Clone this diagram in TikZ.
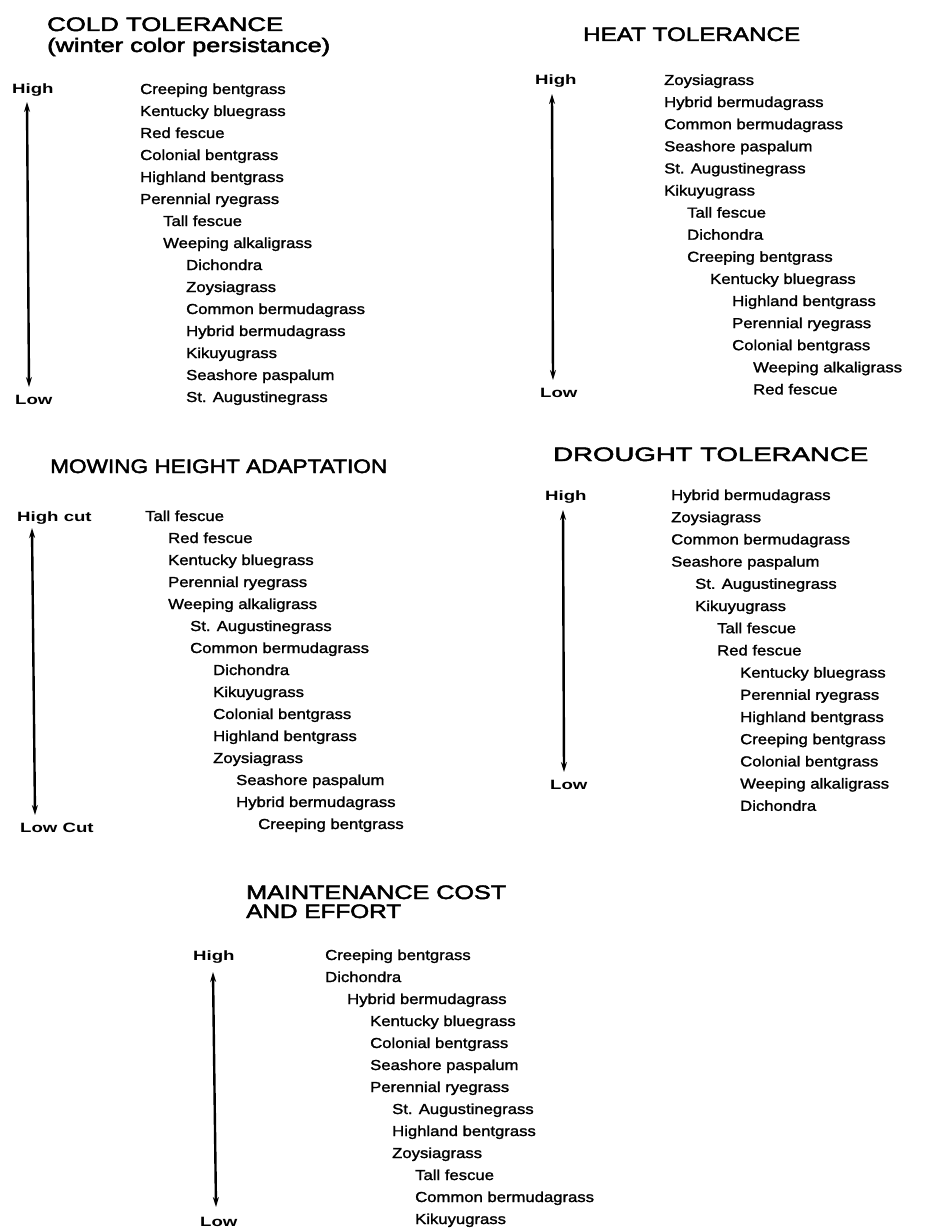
\documentclass[tikz,border=0pt]{standalone}
\usepackage{fontspec}
\setmainfont{Liberation Sans}[FakeStretch=1.15,FakeBold=1.5]
\newfontfamily\lblfont{Liberation Sans}[FakeStretch=1.38]
\newfontfamily\ttlfont{Liberation Sans}[FakeBold=2.2]
\usetikzlibrary{arrows.meta}
\tikzset{
  item/.style={anchor=base west, inner sep=0pt, font=\fontsize{14.5}{17}\selectfont},
  lbl/.style={anchor=base west, inner sep=0pt, font=\lblfont\bfseries\fontsize{13.5}{16}\selectfont},
  ttl/.style={anchor=base west, inner sep=0pt, font=\ttlfont\fontsize{19.5}{22}\selectfont},
  axisarrow/.style={line width=2.4pt, {Stealth[length=10pt,width=6pt]}-{Stealth[length=10pt,width=6pt]}}
}
\newcommand\tw[2]{\resizebox{#1pt}{\height}{#2}}
\begin{document}
\begin{tikzpicture}[x=1pt,y=-1pt]
\useasboundingbox (0,0) rectangle (935,1228);
\fill[white] (0,0) rectangle (935,1228);

% ---------- COLD TOLERANCE ----------
\node[ttl] (coldT1) at (47,31) {\tw{236}{COLD TOLERANCE}};
\node[ttl] (coldT2) at (47,52) {\tw{283}{(winter color persistance)}};
\node[lbl] (coldHi) at (12,94) {High};
\node[lbl] (coldLo) at (15,404) {Low};
\coordinate (coldTop) at (27,102);
\coordinate (coldBot) at (29,387);
\draw[axisarrow] (coldTop) -- (coldBot);
\foreach \dx/\t [count=\i from 0] in {0/Creeping bentgrass,0/Kentucky bluegrass,0/Red fescue,0/Colonial bentgrass,0/Highland bentgrass,0/Perennial ryegrass,23/Tall fescue,23/Weeping alkaligrass,46/Dichondra,46/Zoysiagrass,46/Common bermudagrass,46/Hybrid bermudagrass,46/Kikuyugrass,46/Seashore paspalum,46/St. Augustinegrass}
  \node[item] (cold\i) at (140+\dx,94+22*\i) {\t};

% ---------- HEAT TOLERANCE ----------
\node[ttl] (heatT) at (583,41) {\tw{217}{HEAT TOLERANCE}};
\node[lbl] (heatHi) at (535,85) {High};
\node[lbl] (heatLo) at (540,397) {Low};
\coordinate (heatTop) at (552,94);
\coordinate (heatBot) at (553,380);
\draw[axisarrow] (heatTop) -- (heatBot);
\foreach \dx/\t [count=\i from 0] in {0/Zoysiagrass,0/Hybrid bermudagrass,0/Common bermudagrass,0/Seashore paspalum,0/St. Augustinegrass,0/Kikuyugrass,23/Tall fescue,23/Dichondra,23/Creeping bentgrass,46/Kentucky bluegrass,68/Highland bentgrass,68/Perennial ryegrass,68/Colonial bentgrass,89/Weeping alkaligrass,89/Red fescue}
  \node[item] (heat\i) at (664+\dx,85+22.1*\i) {\t};

% ---------- MOWING HEIGHT ADAPTATION ----------
\node[ttl] (mowT) at (50,473) {\tw{337}{MOWING HEIGHT ADAPTATION}};
\node[lbl] (mowHi) at (17,521) {High cut};
\node[lbl] (mowLo) at (20,832) {Low Cut};
\coordinate (mowTop) at (32,528);
\coordinate (mowBot) at (35,815);
\draw[axisarrow] (mowTop) -- (mowBot);
\foreach \dx/\t [count=\i from 0] in {0/Tall fescue,23/Red fescue,23/Kentucky bluegrass,23/Perennial ryegrass,23/Weeping alkaligrass,45/St. Augustinegrass,45/Common bermudagrass,68/Dichondra,68/Kikuyugrass,68/Colonial bentgrass,68/Highland bentgrass,68/Zoysiagrass,91/Seashore paspalum,91/Hybrid bermudagrass,113/Creeping bentgrass}
  \node[item] (mow\i) at (145+\dx,521+22*\i) {\t};

% ---------- DROUGHT TOLERANCE ----------
\node[ttl] (drT) at (553,461) {\tw{315}{DROUGHT TOLERANCE}};
\node[lbl] (drHi) at (545,500) {High};
\node[lbl] (drLo) at (550,789) {Low};
\coordinate (drTop) at (563,510);
\coordinate (drBot) at (564,772);
\draw[axisarrow] (drTop) -- (drBot);
\foreach \dx/\t [count=\i from 0] in {0/Hybrid bermudagrass,0/Zoysiagrass,0/Common bermudagrass,0/Seashore paspalum,24/St. Augustinegrass,24/Kikuyugrass,46/Tall fescue,46/Red fescue,69/Kentucky bluegrass,69/Perennial ryegrass,69/Highland bentgrass,69/Creeping bentgrass,69/Colonial bentgrass,69/Weeping alkaligrass,69/Dichondra}
  \node[item] (dr\i) at (671+\dx,500+22.2*\i) {\t};

% ---------- MAINTENANCE COST AND EFFORT ----------
\node[ttl] (mtT1) at (246,899) {\tw{260}{MAINTENANCE COST}};
\node[ttl] (mtT2) at (246,918) {\tw{155}{AND EFFORT}};
\node[lbl] (mtHi) at (193,960) {High};
\node[lbl] (mtLo) at (200,1226) {Low};
\coordinate (mtTop) at (213,972);
\coordinate (mtBot) at (216,1207);
\draw[axisarrow] (mtTop) -- (mtBot);
\foreach \dx/\t [count=\i from 0] in {0/Creeping bentgrass,0/Dichondra,22/Hybrid bermudagrass,45/Kentucky bluegrass,45/Colonial bentgrass,45/Seashore paspalum,45/Perennial ryegrass,67/St. Augustinegrass,67/Highland bentgrass,67/Zoysiagrass,90/Tall fescue,90/Common bermudagrass,90/Kikuyugrass}
  \node[item] (mt\i) at (325+\dx,960+22*\i) {\t};
\end{tikzpicture}
\end{document}
